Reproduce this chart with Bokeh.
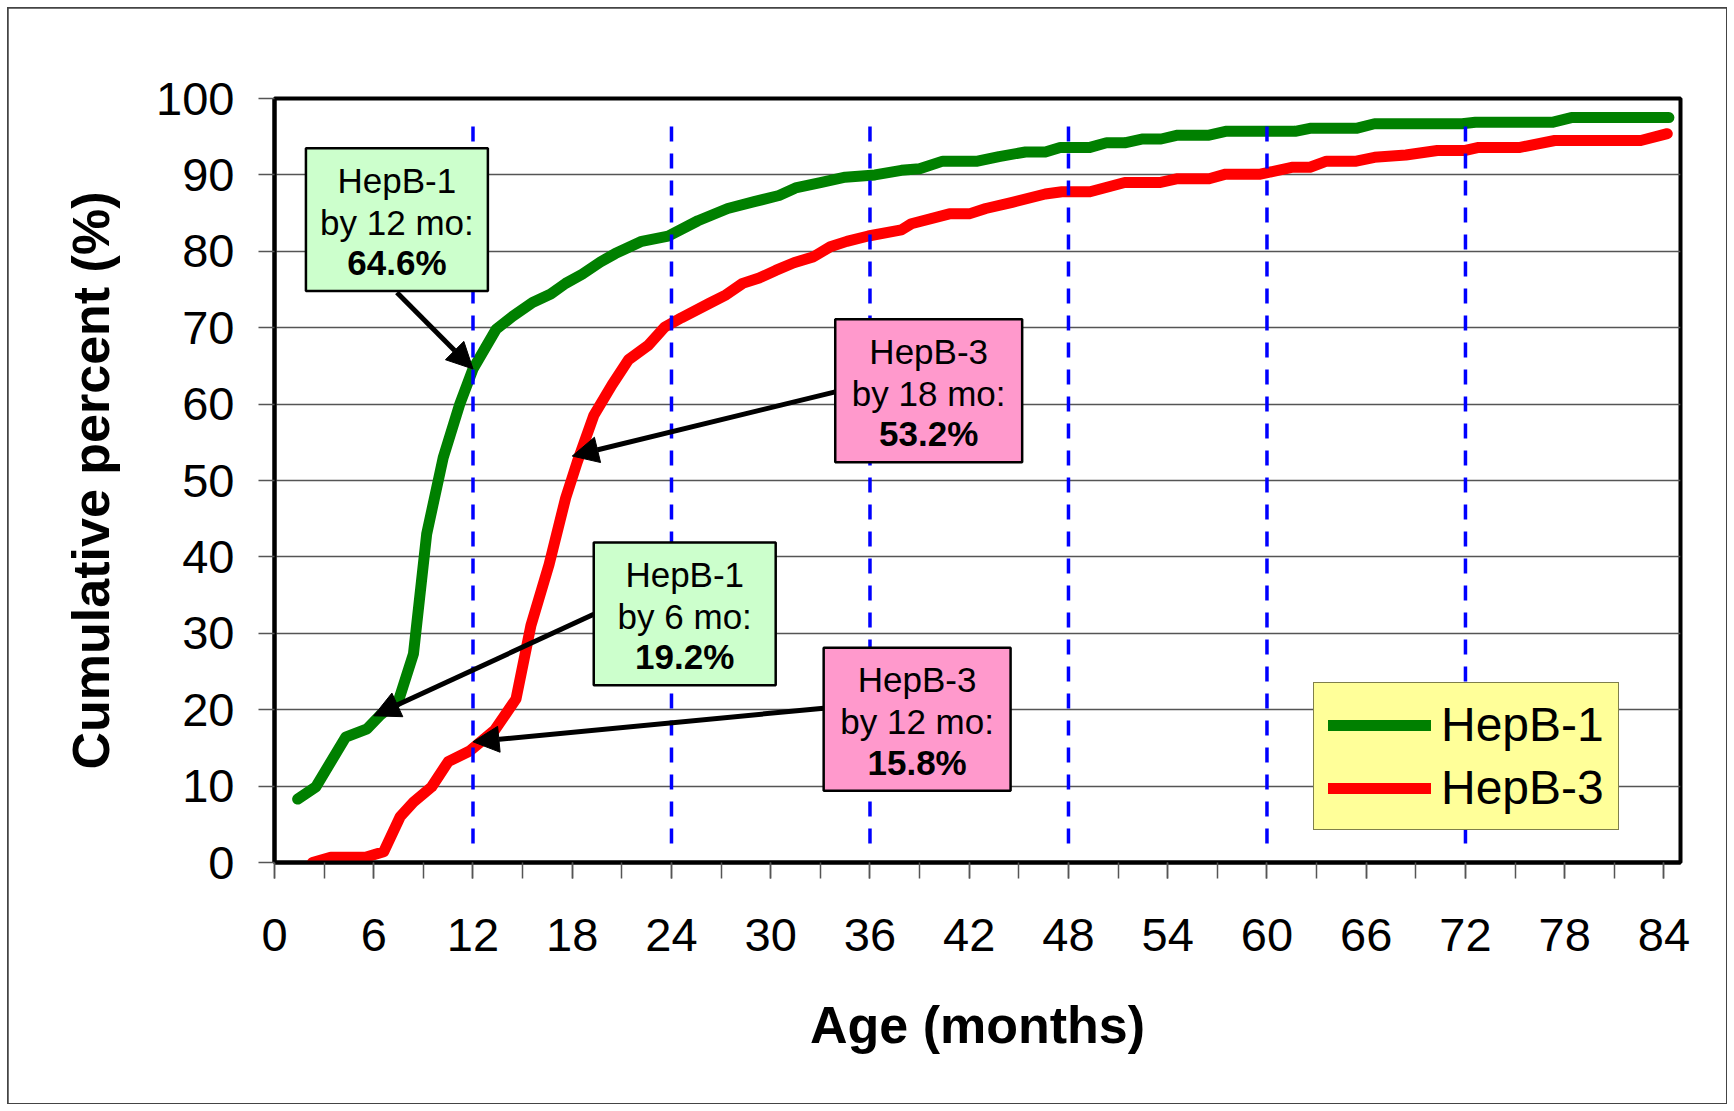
from bokeh.plotting import figure
from bokeh.models import (Range1d, FixedTicker, Arrow, NormalHead, Legend, LegendItem)
from bokeh.core.properties import value
from bokeh.embed import file_html
from bokeh.resources import INLINE

# ---------------- data ----------------
hepb1_month = [1.4, 2.5, 4.3, 5.6, 6.4, 7.5, 8.4, 9.2, 10.2, 11.2, 12.0, 13.4, 14.4, 15.6,
               16.7, 17.6, 18.6, 19.7, 20.6, 22.2, 23.8, 25.6, 27.4, 29.0, 30.5, 31.5,
               33.0, 34.5, 36.3, 37.9, 39.0, 40.4, 42.5, 43.8, 45.4, 46.6, 47.5, 49.3,
               50.3, 51.4, 52.5, 53.6, 54.6, 56.5, 57.5, 61.7, 62.6, 65.4, 66.5, 71.8,
               72.6, 77.3, 78.4, 84.3]
hepb1_pct = [8.3, 9.9, 16.4, 17.5, 19.3, 21.2, 27.3, 43.0, 53.0, 60.0, 64.6, 69.8, 71.5, 73.3,
             74.4, 75.8, 77.0, 78.6, 79.7, 81.3, 82.0, 84.0, 85.6, 86.5, 87.3, 88.3,
             89.0, 89.7, 90.0, 90.6, 90.8, 91.8, 91.8, 92.4, 93.0, 93.0, 93.6, 93.6,
             94.2, 94.2, 94.7, 94.7, 95.2, 95.2, 95.7, 95.7, 96.1, 96.1, 96.7, 96.7,
             96.9, 96.9, 97.5, 97.5]

hepb3_month = [2.3, 3.4, 5.5, 6.6, 7.6, 8.4, 9.5, 10.5, 11.8, 13.3, 14.6, 15.5, 16.6, 17.6,
               18.3, 19.3, 20.4, 21.4, 22.6, 23.6, 24.6, 26.3, 27.3, 28.3, 29.3, 30.3,
               31.4, 32.6, 33.6, 34.6, 35.9, 37.9, 38.5, 40.8, 42.0, 43.0, 44.6, 46.6,
               47.6, 49.3, 51.4, 53.5, 54.6, 56.5, 57.5, 59.6, 61.5, 62.6, 63.6, 65.4,
               66.5, 68.4, 70.3, 72.0, 72.8, 75.3, 77.4, 82.6, 84.2]
hepb3_pct = [0.0, 0.7, 0.7, 1.4, 6.0, 7.9, 9.9, 13.2, 14.6, 17.3, 21.4, 31.0, 39.0, 47.7,
             52.4, 58.5, 62.5, 65.8, 67.7, 70.1, 71.3, 73.2, 74.3, 75.8, 76.5, 77.5,
             78.5, 79.3, 80.6, 81.3, 82.0, 82.8, 83.6, 84.9, 84.9, 85.6, 86.4, 87.5,
             87.8, 87.8, 89.0, 89.0, 89.5, 89.5, 90.1, 90.1, 91.0, 91.0, 91.8, 91.8,
             92.3, 92.6, 93.2, 93.2, 93.6, 93.6, 94.5, 94.5, 95.4]

series_names = ["HepB-1", "HepB-3"]
x_ticks = [0, 6, 12, 18, 24, 30, 36, 42, 48, 54, 60, 66, 72, 78, 84]
x_tick_labels = ["0", "6", "12", "18", "24", "30", "36", "42", "48", "54", "60", "66", "72", "78", "84"]
y_ticks = [0, 10, 20, 30, 40, 50, 60, 70, 80, 90, 100]
ref_months = [12, 24, 36, 48, 60, 72]

callout_series = ["HepB-1", "HepB-3", "HepB-1", "HepB-3"]
callout_month = [12, 18, 6, 12]
callout_pct = [64.6, 53.2, 19.2, 15.8]

# ---------------- layout / style ----------------
FONT = "Liberation Sans"
box_left = [1.9, 33.9, 19.3, 33.2]
box_right = [12.9, 45.2, 30.3, 44.5]
box_top = [93.5, 71.1, 41.9, 28.1]
box_h = 18.7
box_fill = ["#CCFFCC", "#FF99CC", "#CCFFCC", "#FF99CC"]
arrow_x0 = [7.4, 33.9, 19.3, 33.2]
arrow_y0 = [74.6, 61.6, 32.5, 20.2]

W, H = 1718, 1095
p = figure(width=W, height=H, x_range=Range1d(0, 85), y_range=Range1d(0, 100),
           output_backend="svg", toolbar_location=None,
           min_border_left=266, min_border_right=46, min_border_top=90, min_border_bottom=241)
p.styles = {"margin": "8px", "outline": "2px solid #444444", "outline-offset": "-1px"}
p.background_fill_color = "white"
p.border_fill_color = "white"
p.outline_line_color = "black"
p.outline_line_width = 4

# axes
p.xaxis.ticker = FixedTicker(ticks=x_ticks, minor_ticks=list(range(0, 85, 3)))
p.xaxis.major_label_overrides = {t: l for t, l in zip(x_ticks, x_tick_labels)}
p.yaxis.ticker = FixedTicker(ticks=y_ticks)
for ax in (p.xaxis[0], p.yaxis[0]):
    ax.axis_line_color = "black"
    ax.axis_line_width = 4
    ax.major_tick_in = 0
    ax.major_tick_out = 16
    ax.major_tick_line_color = "#555555"
    ax.major_tick_line_width = 1.5
    ax.major_label_text_font = FONT
    ax.major_label_text_font_size = "47px"
    ax.major_label_text_color = "black"
    ax.axis_label_text_font = FONT
    ax.axis_label_text_font_size = "52px"
    ax.axis_label_text_font_style = "bold"
    ax.axis_label_text_color = "black"
p.xaxis.minor_tick_in = 0
p.xaxis.minor_tick_out = 16
p.xaxis.minor_tick_line_color = "#555555"
p.xaxis.minor_tick_line_width = 1.5
p.yaxis.minor_tick_line_color = None
p.xaxis.major_label_standoff = 40
p.yaxis.major_label_standoff = 24
p.xaxis.axis_label = "Age (months)"
p.yaxis.axis_label = "Cumulative percent (%)"
p.xaxis.axis_label_standoff = 42
p.yaxis.axis_label_standoff = 33

p.xgrid.visible = False
p.ygrid.ticker = FixedTicker(ticks=y_ticks)
p.ygrid.grid_line_color = "#555555"
p.ygrid.grid_line_width = 1.5

# curves
r1 = p.line(hepb1_month, hepb1_pct, line_color="#008000", line_width=11,
            line_cap="round", line_join="round")
r3 = p.line(hepb3_month, hepb3_pct, line_color="#FF0000", line_width=11,
            line_cap="round", line_join="round")

# dashed reference lines
p.segment(x0=ref_months, y0=[2.5] * len(ref_months), x1=ref_months, y1=[96.5] * len(ref_months),
          line_color="#0000FF", line_width=3.5, line_dash="15 12")

# arrows
for i in range(len(callout_month)):
    p.add_layout(Arrow(end=NormalHead(size=26, fill_color="black", line_color="black", line_width=1),
                       x_start=arrow_x0[i], y_start=arrow_y0[i],
                       x_end=callout_month[i], y_end=callout_pct[i],
                       line_color="black", line_width=5))

# callout boxes
p.quad(left=box_left, right=box_right, top=box_top, bottom=[t - box_h for t in box_top],
       fill_color=box_fill, line_color="black", line_width=2.5, level="overlay")
cx = [(a + b) / 2 for a, b in zip(box_left, box_right)]
p.text(x=cx, y=[t - 4.2 for t in box_top], text=callout_series,
       text_font=value(FONT), text_font_size="35px", text_align="center",
       text_baseline="middle", text_color="black", level="overlay")
p.text(x=cx, y=[t - 9.7 for t in box_top], text=[f"by {m} mo:" for m in callout_month],
       text_font=value(FONT), text_font_size="35px", text_align="center",
       text_baseline="middle", text_color="black", level="overlay")
p.text(x=cx, y=[t - 15.0 for t in box_top], text=[f"{v}%" for v in callout_pct],
       text_font=value(FONT), text_font_size="35px", text_font_style="bold",
       text_align="center", text_baseline="middle", text_color="black", level="overlay")

# legend
legend = Legend(items=[LegendItem(label=series_names[0], renderers=[r1]),
                       LegendItem(label=series_names[1], renderers=[r3])],
                location=(1039, 32), margin=0, padding=14, spacing=8,
                glyph_width=103, glyph_height=50, label_height=50, label_standoff=10,
                label_text_font=FONT, label_text_font_size="48px", label_text_color="black",
                background_fill_color="#FFFF99", background_fill_alpha=1.0,
                border_line_color="black", border_line_width=1.5)
p.add_layout(legend)

open("out.html", "w").write(file_html(p, INLINE))
